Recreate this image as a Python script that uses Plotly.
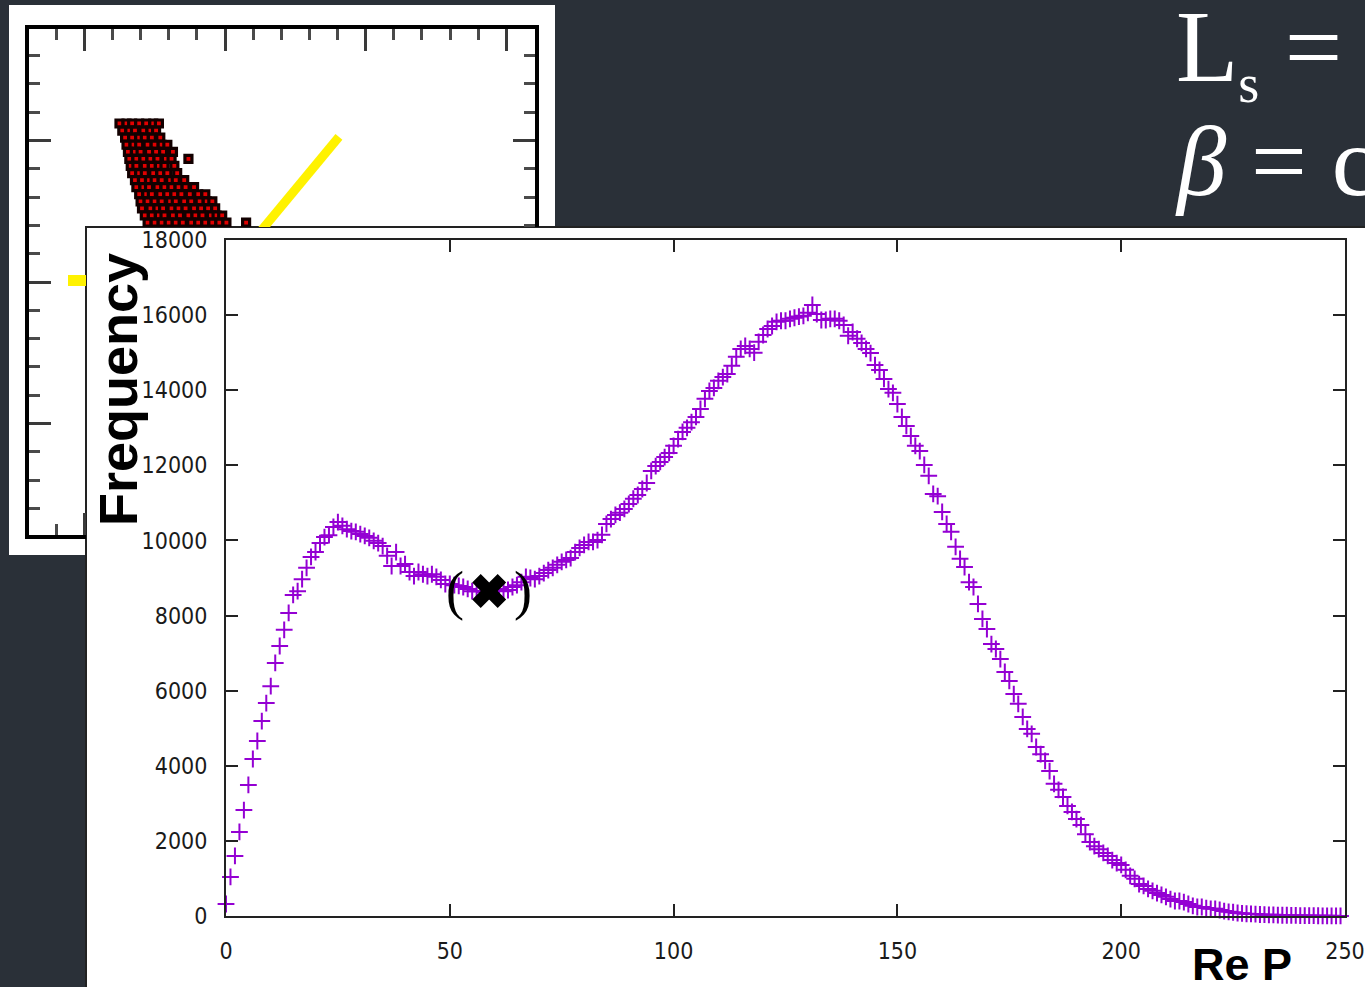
import plotly.graph_objects as go

# ---------------- data ----------------
re_p = list(range(250))
frequency = [
    320, 1040, 1600, 2240, 2820, 3490, 4180, 4660, 5190, 5670,
    6120, 6740, 7190, 7620, 8070, 8550, 8650, 8970, 9270, 9560,
    9690, 9930, 10090, 10140, 10360, 10490, 10390, 10300, 10250, 10230,
    10170, 10120, 10070, 9990, 9930, 9850, 9590, 9320, 9690, 9320,
    9370, 9160, 9050, 9160, 9100, 9050, 9100, 9030, 8950, 8840,
    8840, 8810, 8790, 8760, 8710, 8650, 8650, 8650, 8630, 8650,
    8680, 8710, 8650, 8680, 8760, 8810, 8890, 9030, 9000, 8970,
    9050, 9130, 9210, 9270, 9350, 9430, 9480, 9530, 9690, 9800,
    9880, 9960, 9960, 10010, 10150, 10440, 10570, 10680, 10740, 10840,
    10970, 11110, 11210, 11370, 11530, 11850, 11980, 12090, 12220, 12330,
    12520, 12700, 12890, 13000, 13150, 13290, 13500, 13770, 13980, 14060,
    14250, 14350, 14430, 14650, 14890, 15100, 15180, 15100, 15000, 15290,
    15470, 15630, 15710, 15820, 15850, 15850, 15900, 15930, 15960, 15980,
    16060, 16270, 16030, 15870, 15870, 15900, 15900, 15850, 15740, 15450,
    15550, 15370, 15260, 15100, 14990, 14670, 14540, 14300, 14030, 13930,
    13630, 13290, 13050, 12780, 12520, 12380, 12010, 11720, 11240, 11180,
    10760, 10440, 10230, 9830, 9510, 9290, 8890, 8760, 8310, 7910,
    7640, 7240, 7110, 6840, 6500, 6260, 5910, 5650, 5300, 4980,
    4850, 4500, 4310, 4130, 3860, 3520, 3360, 3170, 2930, 2770,
    2580, 2420, 2180, 1970, 1860, 1780, 1680, 1600, 1490, 1410,
    1360, 1230, 1070, 990, 850, 800, 720, 670, 610, 560,
    510, 450, 400, 400, 370, 320, 270, 240, 240, 210,
    190, 190, 160, 130, 110, 100, 80, 70, 60, 55,
    50, 40, 35, 30, 30, 25, 20, 20, 15, 15,
    10, 10, 10, 8, 6, 5, 5, 4, 3, 2,
]
marked_point_x = [58.8]
marked_point_y = [8655]

x_ticks = [0, 50, 100, 150, 200, 250]
x_tick_text = ['0', '50', '100', '150', '200', '250']
y_ticks = [0, 2000, 4000, 6000, 8000, 10000, 12000, 14000, 16000, 18000]
y_tick_text = ['0', '2000', '4000', '6000', '8000', '10000', '12000',
               '14000', '16000', '18000']

# inset (background screenshot) data, in inset axis units
blob_rows = [
    (1.12, [-0.75, -0.70, -0.66, -0.61, -0.56, -0.51, -0.47]),
    (1.07, [-0.73, -0.68, -0.64, -0.58, -0.53, -0.49]),
    (1.02, [-0.71, -0.66, -0.61, -0.57, -0.52, -0.46]),
    (0.97, [-0.70, -0.65, -0.61, -0.55, -0.50, -0.45, -0.41]),
    (0.92, [-0.69, -0.64, -0.60, -0.54, -0.49, -0.44, -0.37]),
    (0.87, [-0.68, -0.63, -0.58, -0.53, -0.48, -0.42, -0.38, -0.26]),
    (0.82, [-0.67, -0.63, -0.57, -0.52, -0.47, -0.43, -0.36]),
    (0.77, [-0.66, -0.61, -0.57, -0.51, -0.46, -0.41, -0.34]),
    (0.72, [-0.64, -0.59, -0.54, -0.50, -0.45, -0.39, -0.35, -0.29]),
    (0.67, [-0.63, -0.58, -0.54, -0.48, -0.43, -0.38, -0.33, -0.28, -0.22]),
    (0.62, [-0.61, -0.56, -0.52, -0.46, -0.41, -0.36, -0.31, -0.25, -0.19, -0.14]),
    (0.57, [-0.60, -0.55, -0.50, -0.45, -0.39, -0.35, -0.29, -0.24, -0.18, -0.13, -0.09]),
    (0.52, [-0.59, -0.53, -0.48, -0.44, -0.38, -0.33, -0.28, -0.22, -0.17, -0.12, -0.07]),
    (0.47, [-0.57, -0.52, -0.47, -0.43, -0.37, -0.32, -0.26, -0.21, -0.16, -0.10, -0.06, -0.02]),
    (0.42, [-0.55, -0.50, -0.45, -0.40, -0.35, -0.30, -0.24, -0.19, -0.14, -0.09, -0.04, 0.01, 0.15]),
]
yellow_diag_x = [0.25, 0.81]
yellow_diag_y = [0.354, 1.025]
yellow_flat_x = [-1.116, -0.90]
yellow_flat_y = [0.01, 0.01]

# ---------------- layout constants (pixels) ----------------
W, H = 1365, 987
BG = '#2a3038'


def fx(p):
    return p / W


def fy(p):
    return 1 - p / H


# main plot area
MX0, MX1, MY0, MY1 = 226, 1345, 240, 916
# inset geometry
IX0, IXS, IY0, IYS = 225.0, 140.67, 282.0, 141.5
FL, FT, FR, FB = 28.5, 28.5, 535.0, 535.0
PANEL_L, PANEL_T = 86.0, 227.0


def ix(p):
    return (p - IX0) / IXS


def iy(p):
    return (IY0 - p) / IYS


fig = go.Figure()

bx, by = [], []
for yv, xs in blob_rows:
    for xv in xs:
        bx.append(xv)
        by.append(yv)

fig.add_trace(go.Scatter(
    x=yellow_diag_x, y=yellow_diag_y, mode='lines',
    line=dict(color='#fff200', width=9), xaxis='x3', yaxis='y3',
    showlegend=False, hoverinfo='skip'))
fig.add_trace(go.Scatter(
    x=bx, y=by, mode='markers',
    marker=dict(symbol='square', size=7, color='#e00000',
                line=dict(color='#120000', width=3.2)),
    xaxis='x3', yaxis='y3', showlegend=False, hoverinfo='skip'))
fig.add_trace(go.Scatter(
    x=yellow_flat_x, y=yellow_flat_y, mode='lines',
    line=dict(color='#fff200', width=11), xaxis='x4', yaxis='y4',
    showlegend=False, hoverinfo='skip'))

fig.add_trace(go.Scatter(
    x=re_p, y=frequency, mode='markers',
    marker=dict(symbol='cross-thin', size=12,
                line=dict(color='#9400d3', width=2)),
    cliponaxis=False, xaxis='x2', yaxis='y2',
    showlegend=False, hoverinfo='skip'))
fig.add_trace(go.Scatter(
    x=marked_point_x, y=marked_point_y, mode='markers',
    marker=dict(symbol='x', size=30, color='black', line=dict(width=0)),
    cliponaxis=False, xaxis='x2', yaxis='y2',
    showlegend=False, hoverinfo='skip'))

tick_font = dict(family='DejaVu Sans Condensed, DejaVu Sans', size=23, color='#1a1a1a')
axis_common = dict(showline=True, linecolor='#222222', linewidth=2,
                   mirror='ticks', ticks='inside', ticklen=12, tickwidth=2,
                   tickcolor='#222222', showgrid=False, zeroline=False,
                   tickfont=tick_font, automargin=False)

inset_tick = dict(showline=True, linecolor='black', linewidth=4,
                  ticks='inside', ticklen=22, tickwidth=3, tickcolor='#3a3a3a',
                  dtick=1, tick0=0, showgrid=False, zeroline=False,
                  showticklabels=False, automargin=False,
                  minor=dict(ticks='inside', dtick=0.2, ticklen=11,
                             tickwidth=3, tickcolor='#4a4a4a', showgrid=False))

fig.update_layout(
    width=W, height=H, autosize=False,
    margin=dict(l=0, r=0, t=0, b=0, pad=0),
    paper_bgcolor=BG, plot_bgcolor='rgba(0,0,0,0)',
    xaxis2=dict(domain=[fx(MX0), fx(MX1)], range=[0, 250], anchor='y2',
                tickvals=x_ticks, ticktext=x_tick_text,
                ticklabelstandoff=13, **axis_common),
    yaxis2=dict(domain=[fy(MY1), fy(MY0)], range=[0, 18000], anchor='x2',
                tickvals=y_ticks, ticktext=y_tick_text,
                ticklabelstandoff=12, **axis_common),
    xaxis3=dict(domain=[fx(FL), fx(FR)], range=[ix(FL), ix(FR)], anchor='y3',
                side='top', mirror=False, **inset_tick),
    yaxis3=dict(domain=[fy(PANEL_T), fy(FT)], range=[iy(PANEL_T), iy(FT)],
                anchor='x3', side='left', mirror='ticks', **inset_tick),
    xaxis4=dict(domain=[fx(FL), fx(PANEL_L)], range=[ix(FL), ix(PANEL_L)],
                anchor='y4', side='bottom', mirror=False, **inset_tick),
    yaxis4=dict(domain=[fy(FB), fy(PANEL_T)], range=[iy(FB), iy(PANEL_T)],
                anchor='x4', side='left', mirror=False, **inset_tick),
    xaxis=dict(visible=False, automargin=False),
    yaxis=dict(visible=False, automargin=False),
    shapes=[
        dict(type='rect', xref='paper', yref='paper', layer='below',
             x0=fx(9), x1=fx(555), y0=fy(555), y1=fy(5),
             fillcolor='white', line=dict(width=0)),
        dict(type='rect', xref='paper', yref='paper', layer='below',
             x0=fx(PANEL_L), x1=fx(1370), y0=fy(992), y1=fy(PANEL_T),
             fillcolor='white', line=dict(color='#222222', width=2)),
    ],
    annotations=[
        dict(text='Frequency', xref='paper', yref='paper',
             x=fx(118), y=fy(390), textangle=-90, showarrow=False,
             xanchor='center', yanchor='middle',
             font=dict(family='Liberation Sans', size=54, color='black',
                       weight='bold')),
        dict(text='Re P', xref='paper', yref='paper',
             x=fx(1242), y=fy(964), showarrow=False,
             xanchor='center', yanchor='middle',
             font=dict(family='Liberation Sans', size=45, color='black',
                       weight='bold')),
        dict(text='(', xref='x2', yref='y2', x=marked_point_x[0],
             y=marked_point_y[0], xshift=-34, showarrow=False,
             font=dict(family='Liberation Serif', size=54, color='black')),
        dict(text=')', xref='x2', yref='y2', x=marked_point_x[0],
             y=marked_point_y[0], xshift=34, showarrow=False,
             font=dict(family='Liberation Serif', size=54, color='black')),
        dict(text='L<sub><span style="font-size:54px">s</span></sub> = const',
             xref='paper', yref='paper',
             x=fx(1174), y=fy(-12), xanchor='left', yanchor='top',
             showarrow=False, align='left',
             font=dict(family='Liberation Serif', size=102, color='white')),
        dict(text='<i>β</i> = const', xref='paper', yref='paper',
             x=fx(1173), y=fy(105), xanchor='left', yanchor='top',
             showarrow=False, align='left',
             font=dict(family='Liberation Serif', size=99, color='white')),
    ],
)

fig.write_html('out.html', config={'displayModeBar': False},
               post_script="document.body.style.margin='0px';"
                           "document.body.style.overflow='hidden';")
